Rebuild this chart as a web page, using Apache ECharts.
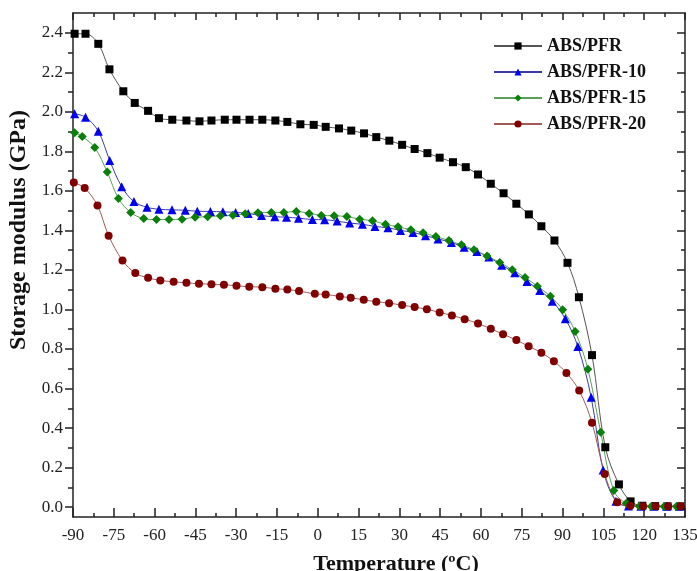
<!DOCTYPE html>
<html>
<head>
<meta charset="utf-8">
<script src="https://cdn.jsdelivr.net/npm/echarts@6/dist/echarts.min.js"></script>
<style>
  html, body { margin: 0; padding: 0; background: #fff; }
  #chart { width: 697px; height: 571px; }
</style>
</head>
<body>
<div id="chart"></div>
<script>
// Storage modulus (GPa) versus temperature (ºC) for the four blends.
const tempABS = [-89.4, -85.4, -80.7, -76.6, -71.5, -67.3, -62.4, -58.4, -53.5, -48.3, -43.5, -39.1, -34.2, -29.9, -25.1, -20.4, -15.6, -11.2, -6.4, -1.5, 2.9, 7.8, 12.3, 17.0, 21.5, 26.3, 31.0, 35.6, 40.3, 44.8, 49.7, 54.4, 58.9, 63.6, 68.3, 73.0, 77.6, 82.2, 87.0, 91.8, 96.0, 100.8, 105.7, 110.7, 115.0, 119.3, 124.0, 128.6, 133.3];
const modABS = [2.395, 2.395, 2.344, 2.215, 2.104, 2.045, 2.005, 1.968, 1.960, 1.956, 1.952, 1.956, 1.960, 1.960, 1.960, 1.960, 1.956, 1.949, 1.937, 1.934, 1.924, 1.916, 1.905, 1.891, 1.872, 1.854, 1.833, 1.812, 1.791, 1.768, 1.745, 1.720, 1.683, 1.636, 1.588, 1.535, 1.481, 1.421, 1.349, 1.236, 1.062, 0.769, 0.303, 0.115, 0.029, 0.007, 0.005, 0.004, 0.004];

const temp10 = [-89.4, -85.4, -80.7, -76.5, -72.1, -67.6, -62.8, -58.4, -53.6, -48.7, -44.3, -39.5, -34.9, -30.2, -25.6, -20.7, -15.8, -11.5, -7.1, -2.0, 2.5, 7.1, 11.7, 16.4, 21.0, 25.8, 30.4, 35.0, 39.6, 44.2, 49.1, 53.8, 58.5, 62.9, 67.6, 72.4, 76.9, 81.6, 86.2, 91.0, 95.6, 100.5, 104.9, 109.6, 114.2, 118.8, 123.5, 128.2, 132.9];
const mod10 = [1.990, 1.973, 1.902, 1.754, 1.621, 1.546, 1.517, 1.507, 1.504, 1.502, 1.497, 1.496, 1.494, 1.491, 1.486, 1.475, 1.469, 1.467, 1.462, 1.455, 1.454, 1.447, 1.437, 1.431, 1.420, 1.413, 1.400, 1.390, 1.373, 1.357, 1.339, 1.315, 1.293, 1.265, 1.224, 1.186, 1.142, 1.096, 1.042, 0.953, 0.813, 0.556, 0.188, 0.030, 0.006, 0.004, 0.004, 0.004, 0.004];

const temp15 = [-89.4, -86.6, -82.0, -77.4, -73.3, -68.8, -64.0, -59.3, -54.7, -49.9, -45.1, -40.5, -35.8, -31.2, -26.7, -22.0, -17.1, -12.5, -7.9, -3.2, 1.3, 6.0, 10.7, 15.4, 20.1, 24.9, 29.5, 34.2, 38.7, 43.4, 48.2, 52.8, 57.4, 62.2, 66.9, 71.5, 76.2, 80.7, 85.5, 90.0, 94.6, 99.3, 104.0, 108.8, 113.4, 118.2, 122.6, 127.3, 131.8];
const mod15 = [1.894, 1.875, 1.819, 1.695, 1.562, 1.491, 1.460, 1.455, 1.455, 1.457, 1.467, 1.469, 1.474, 1.477, 1.484, 1.489, 1.491, 1.491, 1.496, 1.486, 1.476, 1.474, 1.470, 1.457, 1.449, 1.431, 1.418, 1.403, 1.388, 1.369, 1.349, 1.327, 1.302, 1.270, 1.238, 1.201, 1.162, 1.118, 1.067, 0.999, 0.889, 0.698, 0.379, 0.084, 0.019, 0.004, 0.003, 0.003, 0.003];

const temp20 = [-89.7, -85.7, -81.0, -76.9, -71.8, -67.1, -62.4, -57.9, -53.0, -48.3, -43.7, -39.1, -34.5, -29.9, -25.2, -20.4, -15.6, -11.2, -6.9, -1.1, 2.9, 8.1, 12.1, 16.9, 21.5, 26.2, 31.0, 35.6, 40.1, 44.8, 49.3, 54.0, 58.9, 63.6, 68.1, 73.0, 77.5, 82.2, 86.8, 91.4, 96.1, 100.8, 105.5, 110.1, 114.9, 119.6, 124.2, 128.8, 133.3];
const mod20 = [1.642, 1.614, 1.526, 1.373, 1.248, 1.184, 1.160, 1.147, 1.140, 1.135, 1.130, 1.128, 1.125, 1.120, 1.115, 1.113, 1.105, 1.101, 1.093, 1.079, 1.076, 1.066, 1.059, 1.049, 1.039, 1.032, 1.022, 1.012, 1.001, 0.985, 0.970, 0.951, 0.929, 0.902, 0.875, 0.845, 0.814, 0.781, 0.738, 0.679, 0.590, 0.427, 0.167, 0.025, 0.007, 0.005, 0.004, 0.004, 0.004];

const seriesNames = ['ABS/PFR', 'ABS/PFR-10', 'ABS/PFR-15', 'ABS/PFR-20'];

// Tick positions on the modulus axis
const yMajorTicks = [0.0, 0.2, 0.4, 0.6, 0.8, 1.0, 1.2, 1.4, 1.6, 1.8, 2.0, 2.2, 2.4];
const yMinorTicks = [0.1, 0.3, 0.5, 0.7, 0.9, 1.1, 1.3, 1.5, 1.7, 1.9, 2.1, 2.3];

const zip = (xs, ys) => xs.map((x, i) => [x, ys[i]]);

const FONT = '"Liberation Serif", "Times New Roman", serif';
const AXIS_COLOR = '#222';
const Y_MIN = -0.05, Y_MAX = 2.5;
const X_MIN = -90, X_MAX = 135;

const chart = echarts.init(document.getElementById('chart'), null, { renderer: 'canvas' });

function lineSeries(name, xs, ys, symbol, size, markColor, lineColor) {
  return {
    name: name,
    type: 'line',
    data: zip(xs, ys),
    xAxisIndex: 0,
    yAxisIndex: 0,
    symbol: symbol,
    symbolSize: size,
    showAllSymbol: true,
    smooth: 0.35,
    itemStyle: { color: markColor },
    lineStyle: { color: lineColor, width: 1 },
    emphasis: { disabled: true },
    animation: false
  };
}

const yAxisBase = {
  type: 'value', min: Y_MIN, max: Y_MAX, gridIndex: 0,
  splitLine: { show: false }
};

const option = {
  animation: false,
  backgroundColor: '#fff',
  grid: { left: 73, right: 12, top: 13, bottom: 54, containLabel: false, outerBoundsMode: 'none' },
  legend: {
    orient: 'vertical',
    left: 493,
    top: 37,
    padding: 0,
    itemWidth: 48,
    itemHeight: 9,
    itemGap: 8,
    data: seriesNames,
    textStyle: { fontFamily: FONT, fontWeight: 'bold', fontSize: 18, color: '#111', lineHeight: 18 }
  },
  xAxis: [
    {
      type: 'value', min: X_MIN, max: X_MAX, interval: 15, position: 'bottom',
      name: 'Temperature (ºC)', nameLocation: 'middle', nameGap: 36,
      nameTextStyle: { fontFamily: FONT, fontWeight: 'bold', fontSize: 22, color: '#111', padding: [0, 0, 0, 34] },
      axisLine: { show: true, onZero: false, lineStyle: { color: AXIS_COLOR, width: 1.5 } },
      axisTick: { show: true, inside: true, length: 9, lineStyle: { color: AXIS_COLOR, width: 1.5 } },
      minorTick: { show: true, splitNumber: 2, length: 4, lineStyle: { color: AXIS_COLOR, width: 1.5 } },
      axisLabel: { show: true, margin: 10, fontFamily: FONT, fontSize: 17, color: '#222' },
      splitLine: { show: false }
    },
    {
      type: 'value', min: X_MIN, max: X_MAX, interval: 15, position: 'top',
      axisLine: { show: true, onZero: false, lineStyle: { color: AXIS_COLOR, width: 1.5 } },
      axisTick: { show: true, inside: true, length: 7, lineStyle: { color: AXIS_COLOR, width: 1.5 } },
      minorTick: { show: true, splitNumber: 2, length: 4, lineStyle: { color: AXIS_COLOR, width: 1.5 } },
      axisLabel: { show: false },
      splitLine: { show: false }
    }
  ],
  yAxis: [
    Object.assign({}, yAxisBase, {
      position: 'left',
      name: 'Storage modulus (GPa)', nameLocation: 'middle', nameGap: 42, nameRotate: 90,
      nameTextStyle: { fontFamily: FONT, fontWeight: 'bold', fontSize: 24, color: '#111', padding: [0, 0, 0, 70] },
      axisLine: { show: true, onZero: false, lineStyle: { color: AXIS_COLOR, width: 1.5 } },
      axisTick: { show: true, inside: false, length: 8, customValues: yMajorTicks, lineStyle: { color: AXIS_COLOR, width: 1.5 } },
      axisLabel: {
        show: true, margin: 10, fontFamily: FONT, fontSize: 17, color: '#222',
        customValues: yMajorTicks,
        formatter: v => v.toFixed(1)
      }
    }),
    Object.assign({}, yAxisBase, {
      position: 'left',
      axisLine: { show: false, onZero: false },
      axisTick: { show: true, inside: false, length: 5, customValues: yMinorTicks, lineStyle: { color: AXIS_COLOR, width: 1.5 } },
      axisLabel: { show: false }
    }),
    Object.assign({}, yAxisBase, {
      position: 'right',
      axisLine: { show: true, onZero: false, lineStyle: { color: AXIS_COLOR, width: 1.5 } },
      axisTick: { show: true, inside: true, length: 8, customValues: yMajorTicks, lineStyle: { color: AXIS_COLOR, width: 1.5 } },
      axisLabel: { show: false }
    }),
    Object.assign({}, yAxisBase, {
      position: 'right',
      axisLine: { show: false, onZero: false },
      axisTick: { show: true, inside: true, length: 4, customValues: yMinorTicks, lineStyle: { color: AXIS_COLOR, width: 1.5 } },
      axisLabel: { show: false }
    })
  ],
  series: [
    lineSeries(seriesNames[0], tempABS, modABS, 'rect', 8, '#000000', '#555555'),
    lineSeries(seriesNames[1], temp10, mod10, 'triangle', 9, '#0000ee', '#3a3aaa'),
    lineSeries(seriesNames[2], temp15, mod15, 'diamond', 9, '#0a800a', '#5aa05a'),
    lineSeries(seriesNames[3], temp20, mod20, 'circle', 8, '#800000', '#a05a5a')
  ]
};

chart.setOption(option);
</script>
</body>
</html>
